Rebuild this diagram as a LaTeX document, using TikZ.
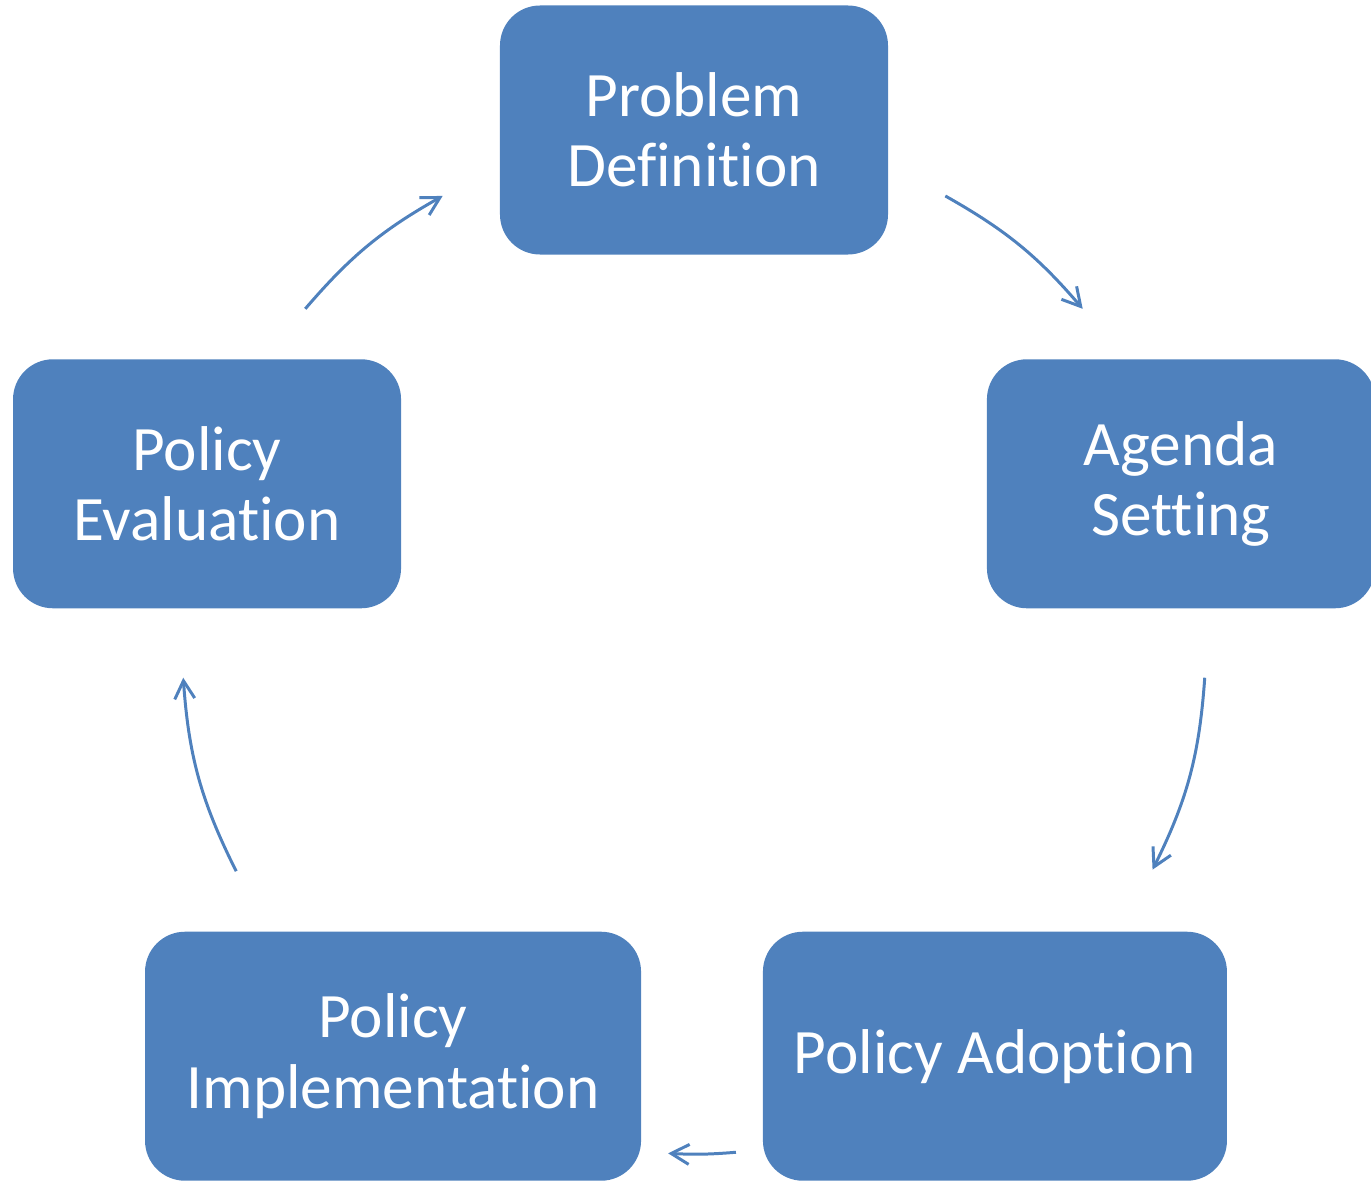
\documentclass[tikz,border=0pt]{standalone}
\usepackage{fontspec}
\setmainfont{Carlito}[Ligatures=NoCommon]
\usepackage{tikz}
\usetikzlibrary{arrows.meta,positioning,shapes}
\definecolor{cycblue}{RGB}{79,129,189}
\def\rad{5.12}

\begin{document}
\begin{tikzpicture}[->,>={Straight Barb[length=1.8mm,width=2mm]}, line width=0.85pt, draw=cycblue,
    phase/.style={fill=cycblue,draw=none,text=white,rectangle,rounded corners=0.4cm,align=center,
      minimum width=3.88cm,minimum height=2.49cm,inner sep=0pt,font=\fontsize{18}{20}\selectfont}]
%
   \useasboundingbox (-6.94,-5.38) rectangle (6.77,6.42);
   \node[phase]                     (N1) at (90:\rad)   {Problem\\Definition};
   \node[phase]                     (N2) at (18:\rad)   {Agenda\\Setting};
   \node[phase,minimum width=4.64cm] (N3) at (-54:\rad)  {Policy Adoption};
   \node[phase,minimum width=4.96cm] (N4) at (-126:\rad) {Policy\\Implementation};
   \node[phase]                     (N5) at (162:\rad)  {Policy\\Evaluation};
%
   \coordinate (A1) at (60.6:\rad);   \coordinate (B1) at (40.6:\rad);
   \coordinate (A2) at (-4:\rad);     \coordinate (B2) at (-26.4:\rad);
   \coordinate (A3) at (-85.3:\rad);  \coordinate (B3) at (-92.9:\rad);
   \coordinate (A4) at (-153.4:\rad); \coordinate (B4) at (-176:\rad);
   \coordinate (A5) at (139.4:\rad);  \coordinate (B5) at (119.4:\rad);
%
   \path (A1) edge[bend left=10]  (B1);
   \path (A2) edge[bend left=11.2] (B2);
   \path (A3) edge[bend left=3.8] (B3);
   \path (A4) edge[bend left=11.3] (B4);
   \path (A5) edge[bend left=10]  (B5);
\end{tikzpicture}
\end{document}
